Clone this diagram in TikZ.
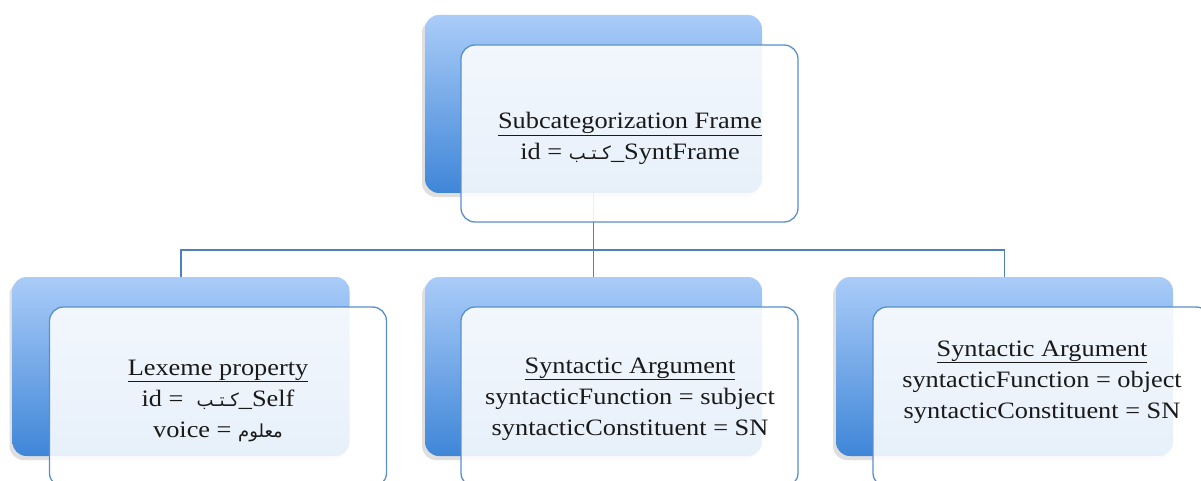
\documentclass[tikz,border=0pt]{standalone}
\usepackage{fontspec}
\setmainfont{Liberation Serif}[FakeStretch=1.12]
\newfontfamily\arabicfont[Script=Arabic]{DejaVu Sans}
\TeXXeTstate=1
\usetikzlibrary{shadows}
\definecolor{bkA}{HTML}{AACCF8}
\definecolor{bkB}{HTML}{3F86D8}
\definecolor{frameblue}{HTML}{5B8FCB}
\definecolor{connblue}{HTML}{4F7FBF}
\definecolor{txt}{HTML}{1A1A1A}
\newcommand{\ar}[1]{{\arabicfont\fontsize{18}{20}\selectfont\beginR #1\endR}}
\begin{document}
\begin{tikzpicture}[x=1pt,y=-1pt,
  backbox/.style={draw=none, rounded corners=14pt, minimum width=337pt, minimum height=178pt,
    top color=bkA, bottom color=bkB,
    drop shadow={shadow xshift=-3pt, shadow yshift=-4pt, opacity=0.25}},
  frontbox/.style={draw=frameblue, line width=1.3pt, rounded corners=14pt, minimum width=337pt,
    minimum height=177pt, fill=white, fill opacity=0.88},
  label/.style={anchor=base, align=center, text=txt, font=\fontsize{23.5}{31}\selectfont},
  conn/.style={draw=connblue, line width=1.4pt}]
\useasboundingbox (0,0) rectangle (1201,481);
\clip (0,0) rectangle (1201,481);
\fill[white] (0,0) rectangle (1201,481);
% connectors
\coordinate (hub) at (593.5,250);
\node[minimum width=337pt, minimum height=178pt] (topslot) at (593.5,104) {};
\node[minimum width=337pt, minimum height=179pt] (Lslot) at (181,366.5) {};
\node[minimum width=337pt, minimum height=179pt] (Mslot) at (593.5,366.5) {};
\node[minimum width=337pt, minimum height=179pt] (Rslot) at (1004.5,366.5) {};
\draw[conn] (topslot.south) -- (hub);
\draw[conn] (Lslot.north) |- (hub) -| (Rslot.north);
\draw[conn] (hub) -- (Mslot.north);
% back boxes
\node[backbox] (topback) at (593.5,104) {};
\node[backbox, minimum height=179pt] (Lback) at (181,366.5) {};
\node[backbox, minimum height=179pt] (Mback) at (593.5,366.5) {};
\node[backbox, minimum height=179pt] (Rback) at (1004.5,366.5) {};
% front boxes
\node[frontbox] (topfront) at (629.5,133.5) {};
\node[frontbox, minimum height=180pt] (Lfront) at (218,397) {};
\node[frontbox, minimum height=180pt] (Mfront) at (629.5,397) {};
\node[frontbox, minimum height=180pt] (Rfront) at (1041.5,397) {};
% texts
\node[label] (toptext) at (630,160) {\underline{Subcategorization Frame}\\ id = \ar{كـتـب}\_SyntFrame};
\node[label] (Ltext) at (218,437) {\underline{Lexeme property}\\ id = \ \ar{كـتـب}\_Self\\ voice = \ar{معلوم}};
\node[label] (Mtext) at (630,435) {\underline{Syntactic Argument}\\ syntacticFunction = subject\\ syntacticConstituent = SN};
\node[label] (Rtext) at (1042,418) {\underline{Syntactic Argument}\\ syntacticFunction = object\\ syntacticConstituent = SN};
\end{tikzpicture}
\end{document}
